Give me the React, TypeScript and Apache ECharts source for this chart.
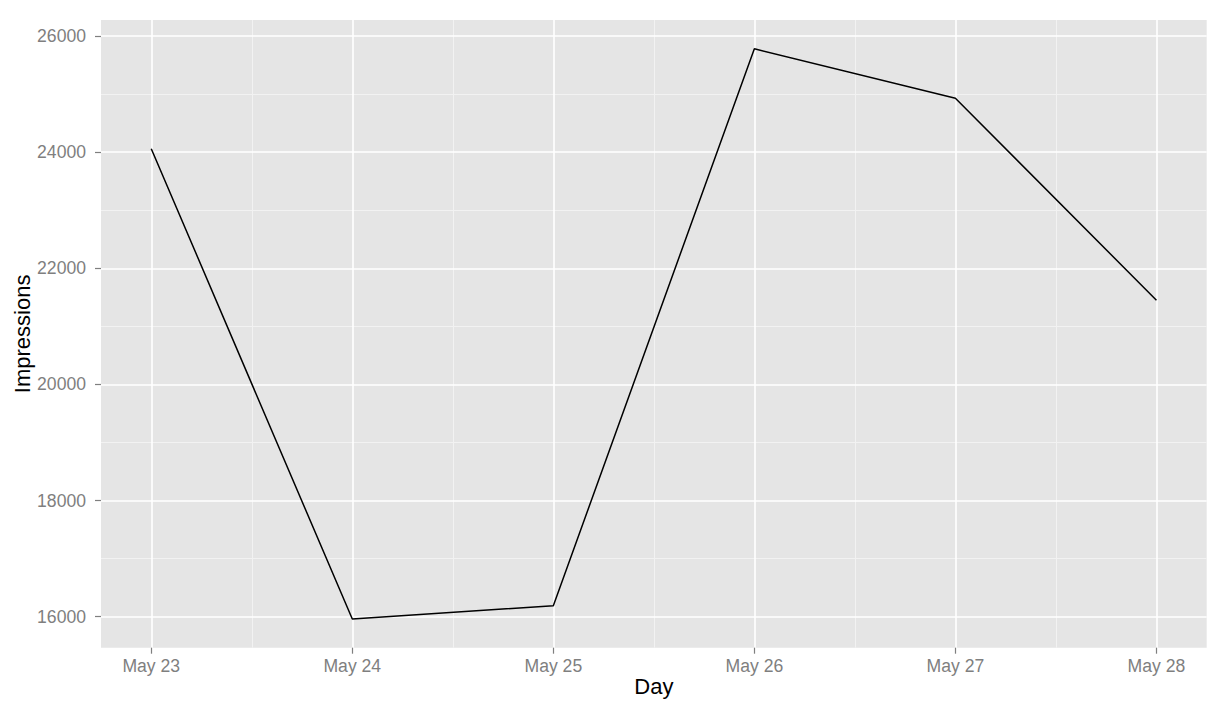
import React, { useEffect, useRef } from "react";
import * as echarts from "echarts";

const days = ["May 23", "May 24", "May 25", "May 26", "May 27", "May 28"];
const impressions = [24060, 15960, 16190, 25780, 24930, 21450];
const yMajorTicks = [16000, 18000, 20000, 22000, 24000, 26000];
const yMinorTicks = [17000, 19000, 21000, 23000, 25000];
const xMajorTicks = [0, 1, 2, 3, 4, 5];
const xMinorTicks = [0.5, 1.5, 2.5, 3.5, 4.5];

const X_MIN = -0.25;
const X_MAX = 5.25;
const Y_MIN = 15466;
const Y_MAX = 26276;

export default function App() {
  const ref = useRef<HTMLDivElement>(null);
  useEffect(() => {
    if (!ref.current) return;
    const chart = echarts.init(ref.current, null, { renderer: "svg" });
    const font = "'Liberation Sans', Arial, Helvetica, sans-serif";
    chart.setOption({
      animation: false,
      grid: {
        left: 101,
        top: 20,
        right: 15.3,
        bottom: 56.3,
        show: true,
        backgroundColor: "#E5E5E5",
        borderWidth: 0,
        containLabel: false,
        outerBoundsMode: "none",
      },
      xAxis: [
        {
          type: "value",
          min: X_MIN,
          max: X_MAX,
          z: 1,
          axisLine: { show: false, onZero: false },
          axisTick: {
            show: true,
            customValues: xMajorTicks,
            length: 6,
            lineStyle: { color: "#7F7F7F", width: 1.2 },
          },
          axisLabel: {
            customValues: xMajorTicks,
            formatter: (v: number) => days[Math.round(v)] ?? "",
            color: "#7F7F7F",
            fontSize: 17.6,
            fontFamily: font,
            margin: 9,
          },
          splitLine: { show: true, lineStyle: { color: "#FFFFFF", width: 1.6 } },
          name: "Day",
          nameLocation: "middle",
          nameGap: 28,
          nameMoveOverlap: false,
          nameTextStyle: { color: "#000000", fontSize: 22, fontFamily: font },
        },
        {
          type: "value",
          min: X_MIN,
          max: X_MAX,
          z: 0.5,
          axisLine: { show: false, onZero: false },
          axisTick: { show: false, customValues: xMinorTicks },
          axisLabel: { show: false },
          splitLine: { show: true, lineStyle: { color: "#F2F2F2", width: 1 } },
        },
      ],
      yAxis: [
        {
          type: "value",
          min: Y_MIN,
          max: Y_MAX,
          z: 1,
          axisLine: { show: false, onZero: false },
          axisTick: {
            show: true,
            customValues: yMajorTicks,
            length: 6,
            lineStyle: { color: "#7F7F7F", width: 1.2 },
          },
          axisLabel: {
            customValues: yMajorTicks,
            formatter: (v: number) => String(v),
            color: "#7F7F7F",
            fontSize: 17.6,
            fontFamily: font,
            margin: 15,
          },
          splitLine: { show: true, lineStyle: { color: "#FFFFFF", width: 1.6 } },
          name: "Impressions",
          nameLocation: "middle",
          nameGap: 68,
          nameRotate: 90,
          nameMoveOverlap: false,
          nameTextStyle: { color: "#000000", fontSize: 22, fontFamily: font },
        },
        {
          type: "value",
          min: Y_MIN,
          max: Y_MAX,
          z: 0.5,
          axisLine: { show: false, onZero: false },
          axisTick: { show: false, customValues: yMinorTicks },
          axisLabel: { show: false },
          splitLine: { show: true, lineStyle: { color: "#F2F2F2", width: 1 } },
        },
      ],
      series: [
        {
          type: "line",
          xAxisIndex: 0,
          yAxisIndex: 0,
          data: days.map((_, i) => [i, impressions[i]]),
          showSymbol: false,
          symbol: "none",
          lineStyle: { color: "#000000", width: 1.5 },
          z: 5,
        },
      ],
    });
    return () => chart.dispose();
  }, []);
  return (
    <div
      ref={ref}
      style={{ position: "absolute", left: 0, top: 0, width: 1222, height: 704 }}
    />
  );
}
